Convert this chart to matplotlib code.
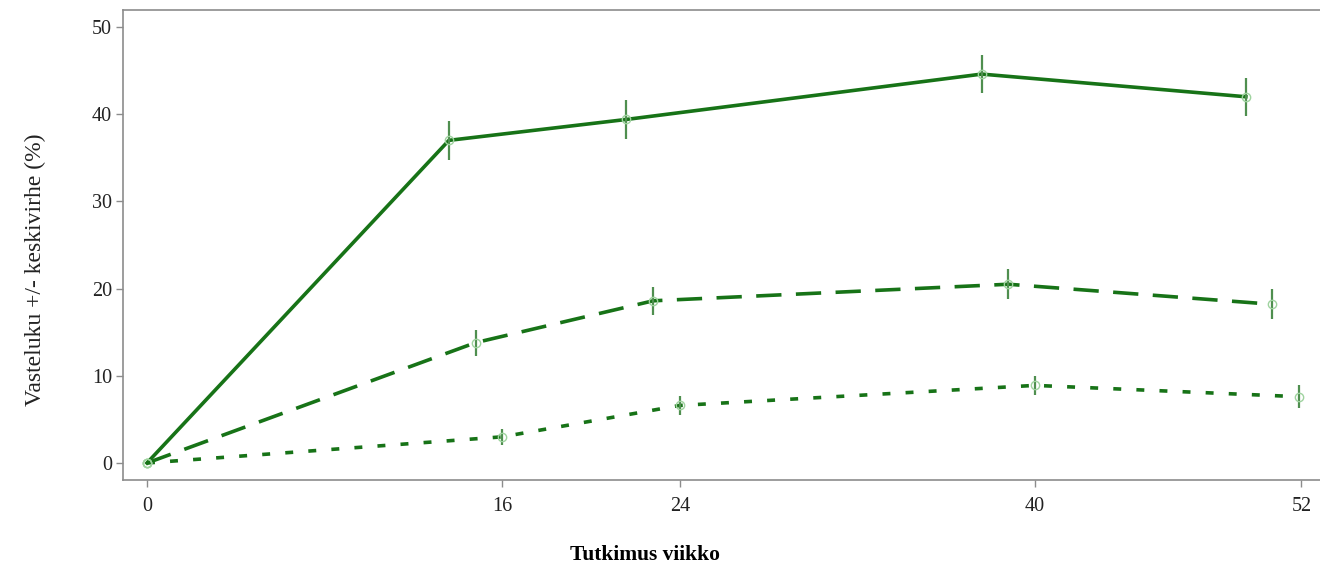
import matplotlib.pyplot as plt

# Data (weeks are dodged a little, as in the original)
weeks_solid = [0, 13.6, 21.6, 37.6, 49.5]
vals_solid = [0, 37.0, 39.4, 44.6, 42.0]
err_solid = [0, 2.2, 2.2, 2.2, 2.2]

weeks_dash = [0, 14.8, 22.8, 38.8, 50.7]
vals_dash = [0, 13.8, 18.6, 20.5, 18.2]
err_dash = [0, 1.5, 1.6, 1.7, 1.7]

weeks_dot = [0, 16, 24, 40, 51.9]
vals_dot = [0, 3.0, 6.6, 8.9, 7.6]
err_dot = [0, 0.9, 1.1, 1.1, 1.3]

xticks = [0, 16, 24, 40, 52]
yticks = [0, 10, 20, 30, 40, 50]

plt.rcParams['font.family'] = ['Liberation Serif', 'DejaVu Serif']

line_col = '#177317'
err_col = '#4f8f4f'
mark_col = '#9fd39f'

fig = plt.figure(figsize=(13.2, 5.71), dpi=100)
ax = fig.add_axes([123 / 1320, 91 / 571, 1 - 123 / 1320, 470 / 571])

series = [
    (weeks_solid, vals_solid, err_solid, '-'),
    (weeks_dash, vals_dash, err_dash, (0, (7, 4))),
    (weeks_dot, vals_dot, err_dot, (0, (2.2, 4.2))),
]
for w, v, e, ls in series:
    ax.plot(w, v, color=line_col, lw=2.6, linestyle=ls, zorder=2)
    ax.errorbar(w, v, yerr=e, fmt='none', ecolor=err_col, elinewidth=1.6,
                capsize=0, zorder=3)
    ax.plot(w, v, 'o', ms=6, mfc='none', mec=mark_col, mew=1.0, zorder=4)

ax.set_xlim(-1.08, 52.84)
ax.set_ylim(-1.95, 51.95)
ax.set_xticks(xticks)
ax.set_yticks(yticks)

for s in ['left', 'bottom', 'top']:
    ax.spines[s].set_color('#8c8c8c')
    ax.spines[s].set_linewidth(1.2)
ax.spines['right'].set_visible(False)
ax.tick_params(axis='both', colors='#8c8c8c', labelcolor='#222222',
               labelsize=14.5, length=5, width=1)
ax.tick_params(axis='x', pad=7)
ax.tick_params(axis='y', pad=3)

fig.text(35 / 1320, 1 - 270 / 571, 'Vasteluku +/- keskivirhe (%)', rotation=90,
         ha='center', va='center', fontsize=17, color='#222222')
fig.text(645 / 1320, 1 - 555 / 571, 'Tutkimus viikko', ha='center', va='center',
         fontsize=15.5, fontweight='bold', color='black')

fig.savefig('out.png', dpi=100)
